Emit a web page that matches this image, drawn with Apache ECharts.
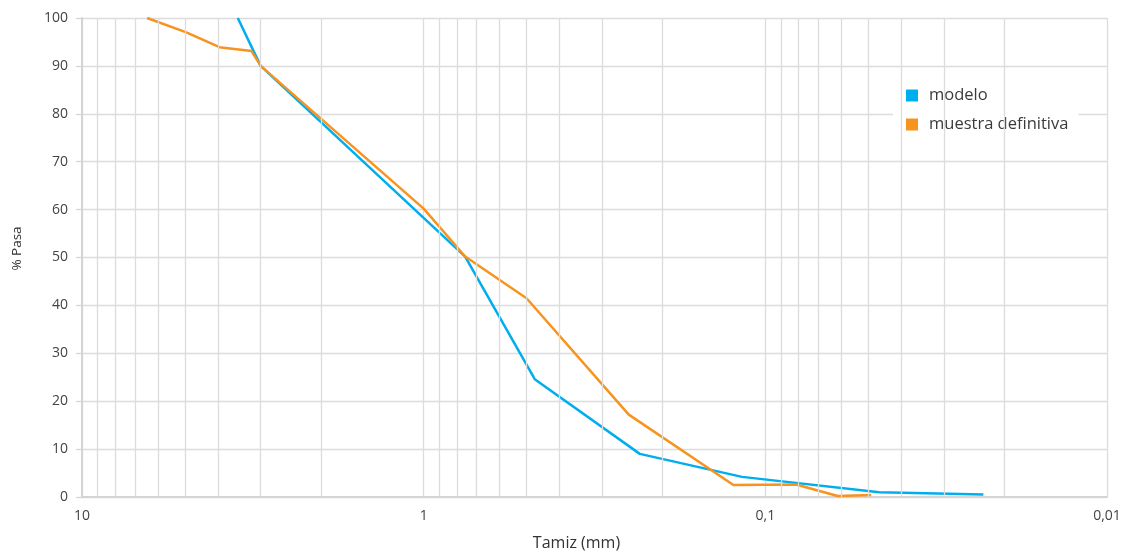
<!DOCTYPE html>
<html>
<head>
<meta charset="utf-8">
<script src="https://cdn.jsdelivr.net/npm/echarts@6/dist/echarts.min.js"></script>
<style>
html,body{margin:0;padding:0;background:#fff;}
#chart{width:1131px;height:558px;}
</style>
</head>
<body>
<div id="chart"></div>
<script>
// Data
var modeloSize = [3.5, 3, 0.756, 0.473, 0.233, 0.117, 0.0464, 0.023];
var modeloPass = [100, 90, 50.2, 24.6, 9.0, 4.2, 1.0, 0.5];
var muestraSize = [6.45, 4.95, 3.96, 3.19, 3, 1, 0.756, 0.5, 0.251, 0.124, 0.0813, 0.0614, 0.049];
var muestraPass = [100, 97, 93.9, 93.1, 90, 60.2, 50.2, 41.5, 17.2, 2.5, 2.6, 0.2, 0.4];
var seriesNames = ['modelo', 'muestra definitiva'];
var xTickValues = [10, 1, 0.1, 0.01];
var minorMultipliers = [2, 3, 4, 5, 6, 7, 8, 9];
var decades = [0.01, 0.1, 1];

function pairs(xs, ys) {
  return xs.map(function (x, i) { return [x, ys[i]]; });
}
var minorLines = [];
decades.forEach(function (d) {
  minorMultipliers.forEach(function (m) {
    minorLines.push({ xAxis: parseFloat((d * m).toPrecision(6)) });
  });
});

var font = 'Open Sans';
var chart = echarts.init(document.getElementById('chart'), null, { renderer: 'canvas' });
chart.setOption({
  animation: false,
  backgroundColor: '#ffffff',
  grid: { left: 82, right: 24, top: 18, bottom: 61, containLabel: false },
  legend: {
    data: seriesNames,
    orient: 'vertical',
    left: 893,
    top: 75,
    icon: 'rect',
    itemWidth: 12,
    itemHeight: 12,
    itemGap: 12,
    padding: [12, 10, 12, 13],
    backgroundColor: '#ffffff',
    textStyle: { fontFamily: font, fontSize: 16.5, color: '#3a3a3a', lineHeight: 17, padding: [0, 0, 0, 6] }
  },
  xAxis: {
    type: 'log',
    logBase: 10,
    min: 0.01,
    max: 10,
    inverse: true,
    name: 'Tamiz (mm)',
    nameLocation: 'middle',
    nameGap: 38,
    nameTextStyle: { fontFamily: font, fontSize: 16, color: '#333', padding: [0, 36, 0, 0] },
    axisLine: { show: true, onZero: false, lineStyle: { color: '#d4d4d4', width: 2 } },
    axisTick: { show: false },
    axisLabel: {
      margin: 12,
      fontFamily: font, fontSize: 14, color: '#444',
      formatter: function (v) {
        var s = parseFloat(Number(v).toPrecision(6));
        return xTickValues.indexOf(s) >= 0 ? String(s).replace('.', ',') : '';
      }
    },
    splitLine: { show: true, lineStyle: { color: '#dcdcdc', width: 1.3 } }
  },
  yAxis: {
    type: 'value',
    min: 0,
    max: 100,
    interval: 10,
    name: '% Pasa',
    nameLocation: 'middle',
    nameGap: 58,
    nameTextStyle: { fontFamily: font, fontSize: 13.5, color: '#333', padding: [0, 0, 0, 18] },
    axisLine: { show: true, lineStyle: { color: '#d4d4d4', width: 2 } },
    axisTick: { show: true, length: 6, lineStyle: { color: '#d4d4d4', width: 1.3 } },
    axisLabel: { margin: 14, fontFamily: font, fontSize: 14, color: '#444' },
    splitLine: { show: true, lineStyle: { color: '#dcdcdc', width: 1.3 } }
  },
  series: [
    {
      name: '_grid',
      type: 'line',
      data: [],
      z: 1,
      silent: true,
      markLine: {
        silent: true,
        symbol: ['none', 'none'],
        label: { show: false },
        lineStyle: { color: '#dcdcdc', width: 1.3, type: 'solid' },
        emphasis: { disabled: true },
        data: minorLines
      }
    },
    {
      name: seriesNames[0],
      type: 'line',
      data: pairs(modeloSize, modeloPass),
      showSymbol: false,
      z: 3,
      lineStyle: { color: '#00aeef', width: 2.5 },
      itemStyle: { color: '#00aeef' }
    },
    {
      name: seriesNames[1],
      type: 'line',
      data: pairs(muestraSize, muestraPass),
      showSymbol: false,
      z: 4,
      lineStyle: { color: '#f7931e', width: 2.5 },
      itemStyle: { color: '#f7931e' }
    }
  ]
});
</script>
</body>
</html>
